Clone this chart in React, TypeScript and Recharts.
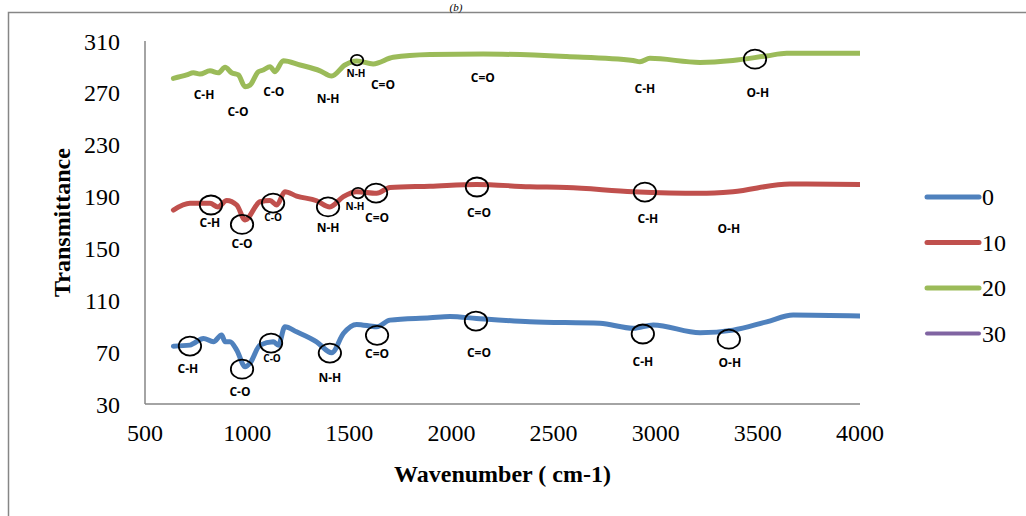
import React from 'react';
import {
  LineChart,
  Line,
  XAxis,
  YAxis,
  ReferenceDot,
} from 'recharts';

// FTIR spectra (wavenumber, transmittance)
const series0 = [
  { wn: 639, t: 74.6 }, { wn: 720, t: 75.4 }, { wn: 737, t: 76.7 }, { wn: 786, t: 80.6 },
  { wn: 835, t: 78 }, { wn: 875, t: 83.2 }, { wn: 892, t: 78 }, { wn: 916, t: 78 },
  { wn: 949, t: 71.6 }, { wn: 990, t: 58.7 }, { wn: 1014, t: 61.5 }, { wn: 1063, t: 75.4 },
  { wn: 1128, t: 78 }, { wn: 1153, t: 75.4 }, { wn: 1185, t: 89.6 }, { wn: 1242, t: 85.7 },
  { wn: 1340, t: 78 }, { wn: 1414, t: 69.5 }, { wn: 1471, t: 84.4 }, { wn: 1536, t: 91.4 },
  { wn: 1634, t: 89.6 }, { wn: 1699, t: 94.7 }, { wn: 1895, t: 96.5 }, { wn: 1993, t: 97.5 },
  { wn: 2123, t: 96 }, { wn: 2384, t: 93.4 }, { wn: 2727, t: 92.2 }, { wn: 2890, t: 88.4 },
  { wn: 2988, t: 91 }, { wn: 3217, t: 85 }, { wn: 3379, t: 87 }, { wn: 3543, t: 93.4 },
  { wn: 3673, t: 98.6 }, { wn: 4000, t: 97.8 },
];

const series10 = [
  { wn: 639, t: 179.6 }, { wn: 720, t: 184.8 }, { wn: 818, t: 184.8 }, { wn: 857, t: 182 },
  { wn: 900, t: 187 }, { wn: 949, t: 183.5 }, { wn: 990, t: 172 }, { wn: 1063, t: 186 },
  { wn: 1112, t: 187 }, { wn: 1145, t: 183.5 }, { wn: 1185, t: 193.8 }, { wn: 1242, t: 190.4 },
  { wn: 1340, t: 186.8 }, { wn: 1405, t: 182 }, { wn: 1471, t: 190 }, { wn: 1536, t: 193.8 },
  { wn: 1634, t: 192.5 }, { wn: 1699, t: 197 }, { wn: 1895, t: 198 }, { wn: 2123, t: 199.4 },
  { wn: 2384, t: 197.6 }, { wn: 2564, t: 197 }, { wn: 2890, t: 193.8 }, { wn: 3217, t: 192.5 },
  { wn: 3378, t: 193.8 }, { wn: 3657, t: 199.7 }, { wn: 4000, t: 199.4 },
];

const series20 = [
  { wn: 639, t: 281.2 }, { wn: 704, t: 283.8 }, { wn: 737, t: 285.5 }, { wn: 769, t: 284.5 },
  { wn: 818, t: 287 }, { wn: 859, t: 285.5 }, { wn: 892, t: 289.7 }, { wn: 924, t: 285.5 },
  { wn: 957, t: 283.8 }, { wn: 990, t: 274.7 }, { wn: 1014, t: 276 }, { wn: 1055, t: 286.3 },
  { wn: 1079, t: 287.6 }, { wn: 1112, t: 290.2 }, { wn: 1136, t: 286.3 }, { wn: 1177, t: 294.8 },
  { wn: 1259, t: 291.5 }, { wn: 1357, t: 287 }, { wn: 1414, t: 283 }, { wn: 1479, t: 291.5 },
  { wn: 1536, t: 294.6 }, { wn: 1617, t: 292.3 }, { wn: 1715, t: 297.4 }, { wn: 1895, t: 299.5 },
  { wn: 2156, t: 300 }, { wn: 2564, t: 298 }, { wn: 2889, t: 295 }, { wn: 2923, t: 294 },
  { wn: 2972, t: 296.6 }, { wn: 3217, t: 293.5 }, { wn: 3378, t: 295 }, { wn: 3543, t: 298.5 },
  { wn: 3641, t: 300.5 }, { wn: 4000, t: 300.5 },
];

// the "30" series has no points in the figure, only a legend entry
const legendItems = [
  { name: '0', color: '#4F81BD', width: 5 },
  { name: '10', color: '#C0504D', width: 5 },
  { name: '20', color: '#9BBB59', width: 5 },
  { name: '30', color: '#8064A2', width: 4 },
];

const xTicks = [500, 1000, 1500, 2000, 2500, 3000, 3500, 4000];
const yTicks = [30, 70, 110, 150, 190, 230, 270, 310];

// peak markers (circles) and band labels
const circles = [
  { wn: 720, t: 74.7, r: 10 }, { wn: 975, t: 56.9, r: 10 }, { wn: 1117, t: 77, r: 10 },
  { wn: 1405, t: 69.3, r: 10 }, { wn: 1636, t: 83, r: 10 }, { wn: 2120, t: 94, r: 10 },
  { wn: 2937, t: 84, r: 10 }, { wn: 3358, t: 80, r: 10 },
  { wn: 823, t: 183.5, r: 10 }, { wn: 975, t: 168.5, r: 10 }, { wn: 1127, t: 185, r: 10 },
  { wn: 1396, t: 182, r: 10 }, { wn: 1543, t: 192.7, r: 5.5 }, { wn: 1631, t: 192.7, r: 10 },
  { wn: 2125, t: 197.4, r: 10 }, { wn: 2947, t: 193.5, r: 10 },
  { wn: 1538, t: 295.3, r: 5.5 }, { wn: 3486, t: 296, r: 10 },
];

const labels = [
  { wn: 710, t: 57.7, text: 'C-H', small: false }, { wn: 965, t: 40, text: 'C-O', small: false },
  { wn: 1122, t: 65.4, text: 'C-O', small: true }, { wn: 1405, t: 50.7, text: 'N-H', small: false },
  { wn: 1636, t: 69.3, text: 'C=O', small: false }, { wn: 2135, t: 70, text: 'C=O', small: false },
  { wn: 2937, t: 63, text: 'C-H', small: false }, { wn: 3363, t: 62.3, text: 'O-H', small: false },
  { wn: 818, t: 170, text: 'C-H', small: false }, { wn: 975, t: 154.1, text: 'C-O', small: false },
  { wn: 1127, t: 174.2, text: 'C-O', small: true }, { wn: 1396, t: 166.5, text: 'N-H', small: false },
  { wn: 1528, t: 182.7, text: 'N-H', small: true }, { wn: 1636, t: 174.2, text: 'C=O', small: false },
  { wn: 2135, t: 178, text: 'C=O', small: false }, { wn: 2962, t: 172.7, text: 'C-H', small: false },
  { wn: 3358, t: 165.7, text: 'O-H', small: false },
  { wn: 789, t: 269.1, text: 'C-H', small: false }, { wn: 955, t: 256, text: 'C-O', small: false },
  { wn: 1131, t: 271.4, text: 'C-O', small: false }, { wn: 1396, t: 266, text: 'N-H', small: false },
  { wn: 1533, t: 285.3, text: 'N-H', small: true }, { wn: 1665, t: 276.8, text: 'C=O', small: false },
  { wn: 2154, t: 281.5, text: 'C=O', small: false }, { wn: 2947, t: 273.7, text: 'C-H', small: false },
  { wn: 3500, t: 270.6, text: 'O-H', small: false },
];

const serif = '"Liberation Serif", "Times New Roman", serif';
const sans = '"Open Sans", "Liberation Sans", sans-serif';

const lineProps = {
  type: 'monotone' as const,
  dataKey: 't',
  strokeWidth: 5,
  dot: false,
  isAnimationActive: false,
  strokeLinejoin: 'round' as const,
  strokeLinecap: 'round' as const,
};

const App: React.FC = () => {
  return (
    <div style={{ position: 'absolute', left: 0, top: 0, width: 1026, height: 516, background: '#fff' }}>
      <svg width={1026} height={516} style={{ position: 'absolute', left: 0, top: 0 }}>
        <rect x={8.5} y={12.5} width={1030} height={520} fill="none" stroke="#868686" strokeWidth={1.5} />
        <text x={456} y={10.5} textAnchor="middle" fontFamily={serif} fontStyle="italic" fontSize={11}>(b)</text>
      </svg>
      <div style={{ position: 'absolute', left: 0, top: 0 }}>
        <LineChart width={1026} height={516}
          margin={{ top: 41, right: 166, bottom: 82, left: 85 }}>
          <XAxis dataKey="wn" type="number" domain={[500, 4000]} ticks={xTicks} interval={0}
            allowDataOverflow tickLine={false} tickSize={0} tickMargin={20}
            axisLine={{ stroke: '#868686', strokeWidth: 1.5 }}
            tick={{ fill: '#000', fontFamily: serif, fontSize: 24 }}
            label={{ value: 'Wavenumber ( cm-1)', position: 'bottom', offset: 31,
              style: { fill: '#000', fontFamily: serif, fontSize: 24, fontWeight: 'bold' } }} />
          <YAxis type="number" domain={[30, 310]} ticks={yTicks} interval={0} allowDataOverflow
            tickLine={false} tickSize={0} tickMargin={25}
            axisLine={{ stroke: '#868686', strokeWidth: 1.5 }}
            tick={{ fill: '#000', fontFamily: serif, fontSize: 24 }}
            label={{ value: 'Transmittance', angle: -90, position: 'insideLeft', offset: -24,
              style: { fill: '#000', fontFamily: serif, fontSize: 24, fontWeight: 'bold', textAnchor: 'middle' } }} />
          <Line {...lineProps} data={series0} name="0" stroke="#4F81BD" />
          <Line {...lineProps} data={series10} name="10" stroke="#C0504D" />
          <Line {...lineProps} data={series20} name="20" stroke="#9BBB59" />
          {circles.map((c, i) => (
            <ReferenceDot key={`c${i}`} x={c.wn} y={c.t} r={c.r} ifOverflow="visible"
              shape={(p: any) => (
                <ellipse cx={p.cx} cy={p.cy} rx={c.r * 1.12} ry={c.r * 0.95}
                  fill="none" stroke="#000" strokeWidth={1.8} />
              )} />
          ))}
          {labels.map((l, i) => (
            <ReferenceDot key={`l${i}`} x={l.wn} y={l.t} r={1} ifOverflow="visible"
              shape={(p: any) => (
                <text x={p.cx} y={p.cy} textAnchor="middle" dominantBaseline="central"
                  fontFamily={sans} fontWeight="bold" fontSize={l.small ? 10 : 12} fill="#000">
                  {l.text}
                </text>
              )} />
          ))}
        </LineChart>
      </div>
      <svg width={100} height={170} style={{ position: 'absolute', left: 922, top: 185 }}>
        {legendItems.map((p, i) => (
          <g key={p.name} transform={`translate(0, ${12 + i * 45.5})`}>
            <line x1={5} y1={0} x2={57} y2={0} stroke={p.color} strokeWidth={p.width} strokeLinecap="round" />
            <text x={60} y={0} dominantBaseline="central" fontFamily={serif} fontSize={24} fill="#000">
              {p.name}
            </text>
          </g>
        ))}
      </svg>
    </div>
  );
};

export default App;
